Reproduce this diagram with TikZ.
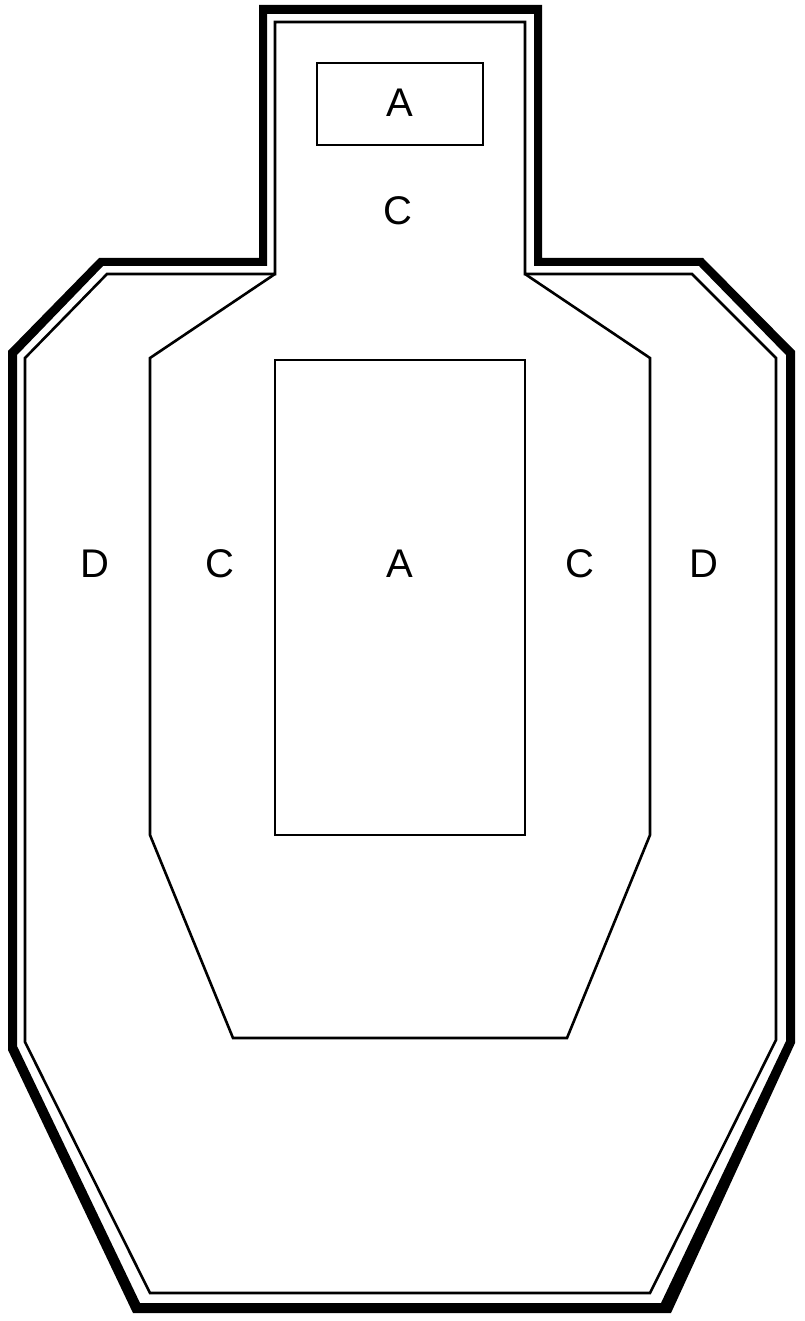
\documentclass[tikz,border=0pt]{standalone}
\usepackage{fontspec}
\setmainfont{Liberation Sans}
\begin{document}
\begin{tikzpicture}[x=1pt,y=-1pt,
  zone/.style={draw=black,line width=2.6pt,line join=miter},
  lbl/.style={inner sep=0pt,font=\fontsize{40}{41}\selectfont}]
\useasboundingbox (0,0) rectangle (804,1321);
% thick outer border (black band)
\fill[black,even odd rule]
  (259,5) -- (542,5) -- (542,258) -- (703,258) -- (795,351) -- (795,1043) -- (671,1313) -- (133,1313) -- (8,1050) -- (8,351) -- (99,258) -- (259,258) -- cycle
  (267,14) -- (534,14) -- (534,266) -- (699,266) -- (786,355) -- (786,1041) -- (661,1303) -- (140,1303) -- (17,1046) -- (17,355) -- (103,266) -- (267,266) -- cycle;
% thin outline (D zone)
\draw[zone] (275,22) -- (525,22) -- (525,274) -- (692,274) -- (776,358) -- (776,1040) -- (650,1293) -- (150,1293) -- (25,1042) -- (25,358) -- (107,274) -- (275,274) -- cycle;
% C zone
\draw[zone] (275,274) -- (150,358) -- (150,835) -- (233,1038) -- (567,1038) -- (650,835) -- (650,358) -- (525,274);
% A zones
\draw[zone] (317,63) rectangle (483,145);
\draw[zone] (275,360) rectangle (525,835);
% labels
\node[lbl] (ahead) at (400,103) {A};
\node[lbl] (chead) at (398,211) {C};
\node[lbl] (dl) at (95,564) {D};
\node[lbl] (cl) at (220,564) {C};
\node[lbl] (abody) at (400,564) {A};
\node[lbl] (cr) at (580,564) {C};
\node[lbl] (dr) at (704,564) {D};
\end{tikzpicture}
\end{document}
